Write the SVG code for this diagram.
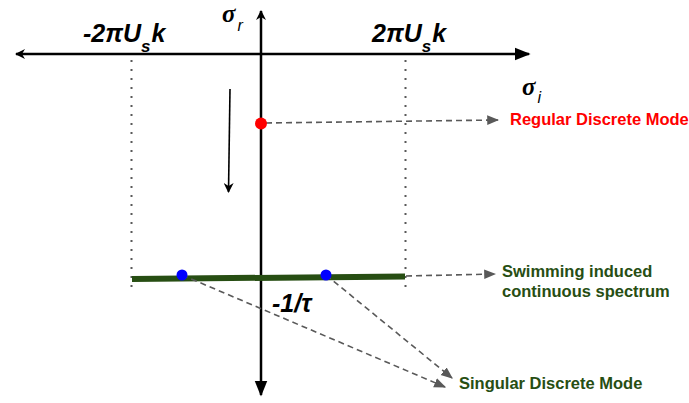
<svg xmlns="http://www.w3.org/2000/svg" width="689" height="403" viewBox="0 0 689 403">
<defs>
<marker id="ah" viewBox="0 0 10 10" refX="9" refY="5" markerWidth="10" markerHeight="10" markerUnits="userSpaceOnUse" orient="auto"><path d="M0,0 L10,5 L0,10 L3,5 z" fill="#000"/></marker>
<marker id="ahb" viewBox="0 0 10 10" refX="9" refY="5" markerWidth="16" markerHeight="16" markerUnits="userSpaceOnUse" orient="auto"><path d="M0,1 L10,5 L0,9 z" fill="#000"/></marker>
<marker id="ag" viewBox="0 0 10 10" refX="9" refY="5" markerWidth="12" markerHeight="12" markerUnits="userSpaceOnUse" orient="auto"><path d="M0,1 L10,5 L0,9 z" fill="#595959"/></marker>
</defs>
<style>
.ax{stroke:#000;stroke-width:2.5;fill:none}
.dot{stroke:#595959;stroke-width:2;stroke-dasharray:2 7;fill:none}
.dash{stroke:#595959;stroke-width:1.6;stroke-dasharray:6 4;fill:none;marker-end:url(#ag)}
.m{font-family:"Liberation Sans",Arial,sans-serif;font-weight:bold;font-style:italic;font-size:25px;fill:#000}
.g{font-family:"Liberation Serif","Times New Roman",serif;font-weight:bold;font-style:italic;font-size:25px;fill:#000}
.sub{font-family:"Liberation Sans",Arial,sans-serif;font-weight:normal;font-style:italic;font-size:16px}
.lb{font-family:"Liberation Sans",Arial,sans-serif;font-weight:bold;font-size:16.5px}
</style>
<g id="axes">
<line class="ax" x1="261" y1="54" x2="529" y2="54" marker-end="url(#ahb)"/>
<line class="ax" x1="261" y1="54" x2="16" y2="54" marker-end="url(#ah)"/>
<line class="ax" x1="261" y1="54" x2="261" y2="11" marker-end="url(#ah)"/>
<line class="ax" x1="261" y1="54" x2="261" y2="395" marker-end="url(#ahb)"/>
</g>
<g id="guides">
<line class="dot" x1="131.5" y1="60" x2="131.5" y2="292"/>
<line class="dot" x1="405.5" y1="60" x2="405.5" y2="292"/>
</g>
<g id="spectrum">
<line x1="132" y1="279" x2="405" y2="276.5" stroke="#274e13" stroke-width="6"/>
</g>
<g id="trend">
<line x1="230" y1="89" x2="228.5" y2="192" stroke="#000" stroke-width="1.6" marker-end="url(#ah)"/>
</g>
<g id="connectors">
<line class="dash" x1="266" y1="123" x2="498" y2="120"/>
<line class="dash" x1="406" y1="276" x2="495" y2="274"/>
<line class="dash" x1="182" y1="275" x2="445" y2="387"/>
<line class="dash" x1="326" y1="275" x2="452" y2="378"/>
</g>
<g id="regular-mode">
<circle cx="261" cy="123.5" r="6" fill="#ff0000"/>
<text class="lb" x="510" y="125" fill="#ff0000">Regular Discrete Mode</text>
</g>
<g id="singular-modes">
<circle cx="182" cy="275" r="5.5" fill="#0000ff"/>
<circle cx="326" cy="275" r="5.5" fill="#0000ff"/>
<text class="lb" x="459" y="389" fill="#274e13">Singular Discrete Mode</text>
</g>
<g id="continuous-label">
<text class="lb" x="502" y="277" fill="#274e13">Swimming induced</text>
<text class="lb" x="502" y="297" fill="#274e13">continuous spectrum</text>
</g>
<g id="labels">
<text class="m" x="83" y="42">-2πU<tspan font-size="17" dy="10">s</tspan><tspan dy="-10" dx="1">k</tspan></text>
<text class="m" x="372" y="42">2πU<tspan font-size="17" dy="10">s</tspan><tspan dy="-10" dx="1">k</tspan></text>
<text class="g" x="222" y="22">σ<tspan class="sub" dy="9" dx="2">r</tspan></text>
<text class="g" x="522" y="95">σ<tspan class="sub" dy="8" dx="2">i</tspan></text>
<text class="m" x="272" y="312">-1/τ</text>
</g>
</svg>
